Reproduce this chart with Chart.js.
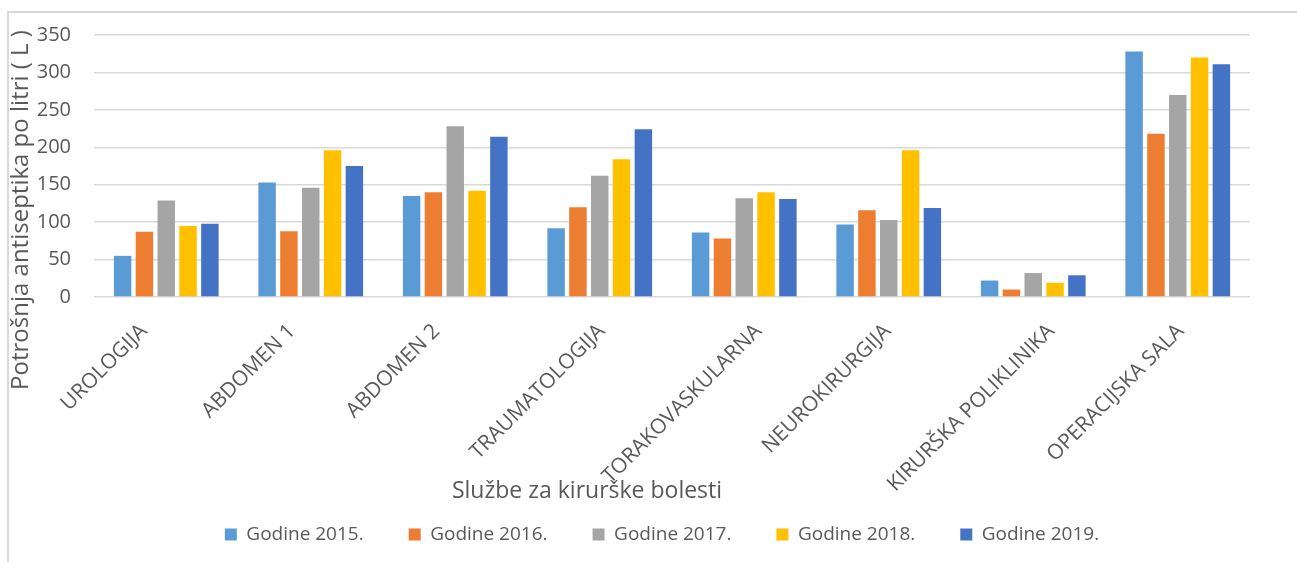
<!DOCTYPE html>
<html>
<head>
<meta charset="utf-8">
<title>Potrošnja antiseptika</title>
<script src="https://cdn.jsdelivr.net/npm/chart.js@4.4.0/dist/chart.umd.min.js"></script>
<style>
    html, body { margin: 0; padding: 0; background: #fff; }
    #frame {
        position: absolute;
        left: 7px;
        top: 11px;
        width: 1290px;
        height: 551px;
        border-left: 2px solid #d9d9d9;
        border-top: 2px solid #d9d9d9;
    }
    #chart { position: absolute; left: 0; top: 0; }
</style>
</head>
<body>
<div id="frame"></div>
<canvas id="chart" width="1297" height="562"></canvas>
<script>
// Službe za kirurške bolesti
const categories = ['UROLOGIJA', 'ABDOMEN 1', 'ABDOMEN 2', 'TRAUMATOLOGIJA',
    'TORAKOVASKULARNA', 'NEUROKIRURGIJA', 'KIRURŠKA POLIKLINIKA', 'OPERACIJSKA SALA'];

const years = ['Godine 2015.', 'Godine 2016.', 'Godine 2017.', 'Godine 2018.', 'Godine 2019.'];

// potrošnja u litrama, procijenjeno sa slike
const values2015 = [55, 153, 135, 92, 86, 97, 22, 328];
const values2016 = [87, 88, 140, 120, 78, 116, 10, 218];
const values2017 = [129, 146, 228, 162, 132, 103, 32, 270];
const values2018 = [95, 196, 142, 184, 140, 196, 19, 320];
const values2019 = [98, 175, 214, 224, 131, 119, 29, 311];

const yTicks = [0, 50, 100, 150, 200, 250, 300, 350];

const colors = ['#5B9BD5', '#ED7D31', '#A5A5A5', '#FFC000', '#4472C4'];
const series = [values2015, values2016, values2017, values2018, values2019];

const textColor = '#595959';
Chart.defaults.font.family = "'Open Sans', sans-serif";
Chart.defaults.color = textColor;

// Excel centres the slanted category names a bit left of each group,
// so they are drawn here instead of by the x scale
const categoryLabels = {
    id: 'categoryLabels',
    afterDraw(chart) {
        const ctx = chart.ctx;
        const xScale = chart.scales.x;
        ctx.save();
        ctx.fillStyle = textColor;
        ctx.font = "21px 'Open Sans', sans-serif";
        ctx.textAlign = 'center';
        ctx.textBaseline = 'middle';
        categories.forEach((label, i) => {
            const w = ctx.measureText(label).width;
            const cx = xScale.getPixelForValue(i) - 62;
            const cy = xScale.top + 31 + w * Math.SQRT1_2 / 2;
            ctx.save();
            ctx.translate(cx, cy);
            ctx.rotate(-Math.PI / 4);
            ctx.fillText(label, 0, 0);
            ctx.restore();
        });
        ctx.restore();
    }
};

// axis titles sit where Excel put them (overlapping the tick labels)
const axisTitles = {
    id: 'axisTitles',
    afterDraw(chart) {
        const ctx = chart.ctx;
        ctx.save();
        ctx.fillStyle = textColor;
        ctx.font = "23px 'Open Sans', sans-serif";
        ctx.textAlign = 'center';
        ctx.textBaseline = 'middle';
        ctx.fillText('Službe za kirurške bolesti', 587, 491);

        ctx.font = "24px 'Open Sans', sans-serif";
        ctx.translate(28, 210);
        ctx.rotate(-Math.PI / 2);
        ctx.textBaseline = 'alphabetic';
        ctx.fillText('Potrošnja antiseptika po litri ( L )', 0, 0);
        ctx.restore();
    }
};

new Chart(document.getElementById('chart'), {
    type: 'bar',
    data: {
        labels: categories,
        datasets: series.map((vals, i) => ({
            label: years[i],
            data: vals,
            backgroundColor: colors[i],
            borderWidth: 0,
            categoryPercentage: 0.755,
            barPercentage: 0.8
        }))
    },
    options: {
        responsive: false,
        animation: false,
        devicePixelRatio: 1,
        layout: {
            padding: { top: 31, right: 7, bottom: 8, left: 34 }
        },
        plugins: {
            legend: {
                position: 'bottom',
                labels: {
                    boxWidth: 12,
                    boxHeight: 12,
                    padding: 45,
                    color: textColor,
                    font: { size: 19 }
                }
            },
            tooltip: { enabled: false }
        },
        scales: {
            x: {
                grid: { display: false },
                border: { display: false },
                ticks: { display: false },
                afterFit: function (scale) {
                    scale.height = 183;
                }
            },
            y: {
                min: 0,
                max: 350,
                afterBuildTicks: function (scale) {
                    scale.ticks = yTicks.map(v => ({ value: v }));
                },
                grid: {
                    color: '#d9d9d9',
                    lineWidth: 1.5,
                    drawTicks: false
                },
                border: { display: false },
                ticks: {
                    padding: 23,
                    color: textColor,
                    font: { size: 20 }
                },
                afterFit: function (scale) {
                    scale.width = 60;
                }
            },
            // empty spacer on the right so the legend centres like Excel's
            spacer: {
                type: 'linear',
                position: 'right',
                grid: { display: false },
                border: { display: false },
                ticks: { display: false },
                afterFit: function (scale) {
                    scale.width = 40;
                }
            }
        }
    },
    plugins: [categoryLabels, axisTitles]
});
</script>
</body>
</html>
